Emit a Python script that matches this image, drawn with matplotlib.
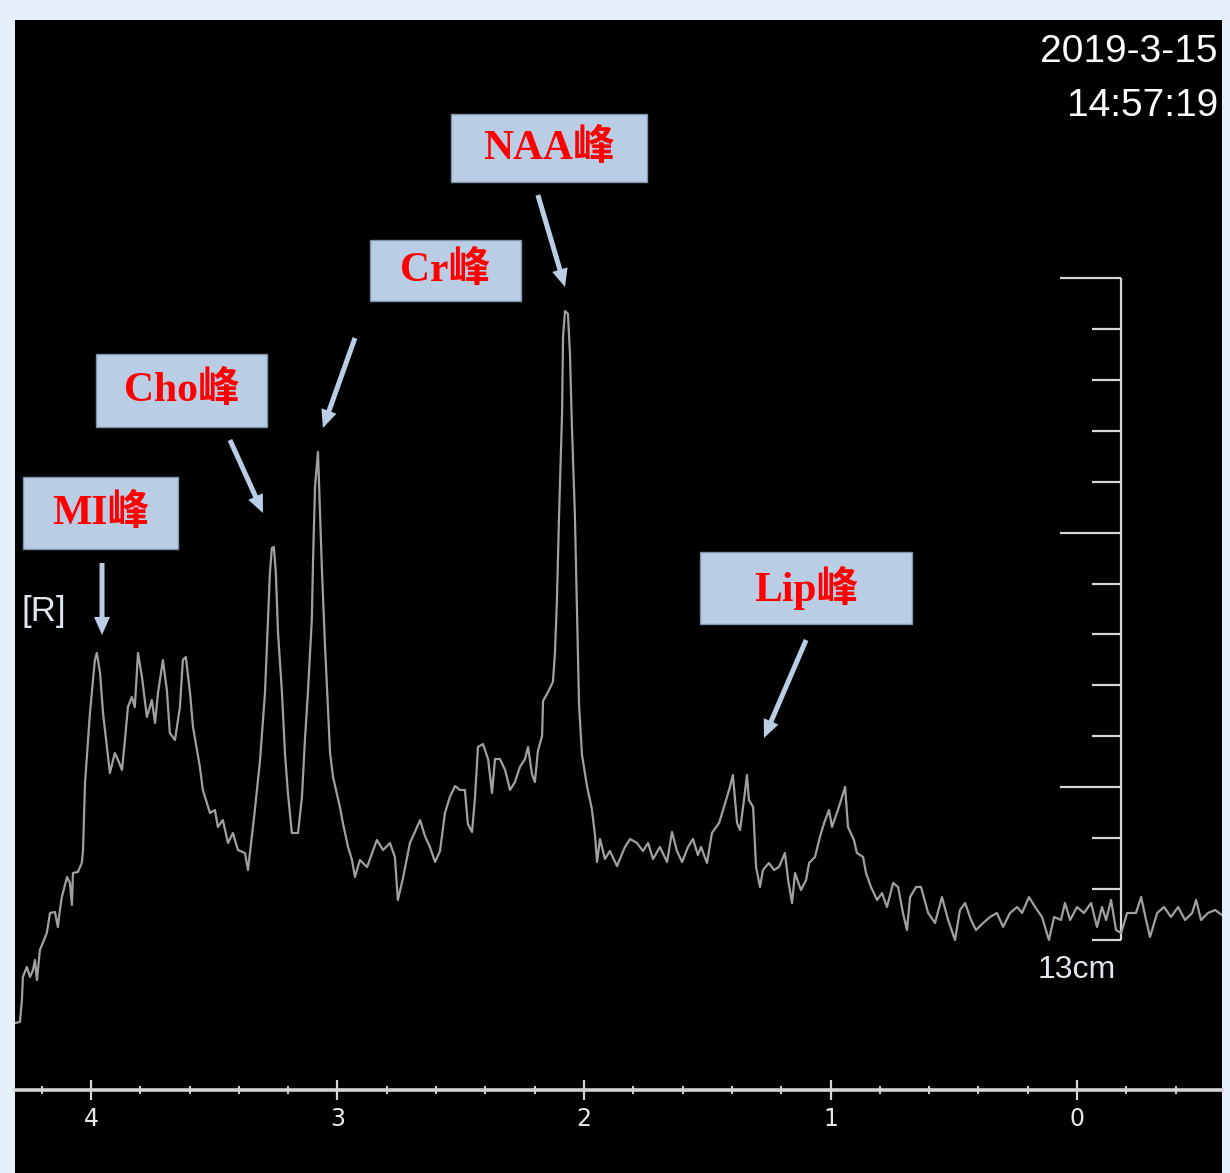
import matplotlib
matplotlib.use("Agg")
import matplotlib.pyplot as plt
from matplotlib.patches import Rectangle

# Spectrum: chemical shift (ppm) and signal height (a.u.)
ppm = [
    4.308, 4.288, 4.280, 4.276, 4.260, 4.247, 4.235, 4.227, 4.219, 4.207,
    4.179, 4.166, 4.146, 4.134, 4.126, 4.118, 4.097, 4.085, 4.077, 4.073,
    4.053, 4.037, 4.032, 4.024, 4.004, 3.984, 3.976, 3.963, 3.951, 3.935,
    3.923, 3.903, 3.890, 3.874, 3.862, 3.850, 3.834, 3.822, 3.809, 3.793,
    3.773, 3.753, 3.740, 3.728, 3.708, 3.692, 3.680, 3.659, 3.639, 3.627,
    3.615, 3.598, 3.586, 3.558, 3.546, 3.517, 3.497, 3.485, 3.465, 3.444,
    3.424, 3.404, 3.375, 3.363, 3.355, 3.335, 3.314, 3.294, 3.282, 3.274,
    3.266, 3.258, 3.250, 3.241, 3.225, 3.213, 3.201, 3.185, 3.172, 3.160,
    3.144, 3.132, 3.120, 3.104, 3.099, 3.091, 3.079, 3.063, 3.051, 3.030,
    3.018, 2.990, 2.978, 2.957, 2.941, 2.929, 2.909, 2.880, 2.840, 2.815,
    2.787, 2.767, 2.755, 2.734, 2.706, 2.686, 2.665, 2.645, 2.625, 2.604,
    2.584, 2.564, 2.544, 2.523, 2.503, 2.483, 2.471, 2.454, 2.442, 2.430,
    2.410, 2.389, 2.373, 2.361, 2.341, 2.320, 2.300, 2.280, 2.260, 2.239,
    2.227, 2.211, 2.199, 2.187, 2.170, 2.166, 2.146, 2.126, 2.118, 2.110,
    2.101, 2.089, 2.085, 2.077, 2.065, 2.057, 2.049, 2.037, 2.028, 2.020,
    2.008, 1.988, 1.968, 1.955, 1.947, 1.935, 1.915, 1.895, 1.866, 1.834,
    1.813, 1.785, 1.761, 1.740, 1.720, 1.692, 1.663, 1.643, 1.623, 1.602,
    1.578, 1.558, 1.538, 1.525, 1.501, 1.481, 1.452, 1.432, 1.408, 1.396,
    1.379, 1.367, 1.351, 1.339, 1.331, 1.314, 1.302, 1.286, 1.274, 1.250,
    1.229, 1.209, 1.185, 1.172, 1.156, 1.144, 1.120, 1.099, 1.087, 1.063,
    1.043, 1.026, 1.006, 0.994, 0.970, 0.957, 0.941, 0.929, 0.905, 0.893,
    0.868, 0.856, 0.836, 0.811, 0.791, 0.771, 0.746, 0.726, 0.706, 0.690,
    0.677, 0.653, 0.633, 0.604, 0.576, 0.548, 0.523, 0.495, 0.475, 0.454,
    0.430, 0.410, 0.381, 0.353, 0.325, 0.300, 0.272, 0.243, 0.223, 0.195,
    0.170, 0.142, 0.114, 0.093, 0.065, 0.049, 0.028, 0.000, -0.028, -0.057,
    -0.081, -0.101, -0.118, -0.138, -0.158, -0.179, -0.203, -0.239, -0.260, -0.280,
    -0.296, -0.325, -0.353, -0.381, -0.410, -0.438, -0.467, -0.483, -0.503, -0.531,
    -0.560, -0.588,
]
signal = [
    67, 68, 90, 113, 123, 113, 120, 130, 110, 140,
    157, 177, 178, 163, 180, 193, 213, 207, 185, 217,
    218, 227, 240, 307, 377, 430, 437, 417, 377, 343,
    317, 337, 330, 320, 350, 383, 393, 383, 437, 413,
    373, 390, 367, 397, 430, 400, 357, 350, 383, 430,
    433, 397, 363, 323, 300, 277, 280, 263, 270, 247,
    257, 240, 237, 220, 237, 280, 330, 397, 470, 517,
    542, 543, 517, 457, 397, 337, 297, 257, 257, 257,
    293, 350, 397, 470, 530, 603, 638, 520, 447, 337,
    313, 283, 267, 243, 230, 213, 230, 223, 250, 240,
    247, 233, 190, 212, 247, 258, 270, 254, 243, 228,
    239, 277, 293, 304, 300, 300, 266, 258, 293, 343,
    346, 331, 297, 331, 331, 320, 300, 308, 323, 331,
    343, 316, 308, 339, 354, 389, 398, 408, 436, 488,
    576, 676, 753, 779, 776, 737, 664, 576, 473, 385,
    335, 304, 281, 254, 228, 251, 231, 239, 224, 243,
    251, 247, 239, 247, 231, 243, 228, 258, 239, 228,
    243, 251, 235, 243, 227, 257, 267, 283, 303, 315,
    267, 260, 290, 315, 290, 283, 223, 203, 220, 227,
    220, 223, 237, 210, 187, 217, 200, 210, 227, 233,
    253, 267, 280, 263, 280, 290, 303, 263, 250, 237,
    233, 217, 203, 190, 197, 183, 207, 203, 177, 160,
    193, 203, 203, 177, 167, 193, 170, 150, 180, 187,
    170, 160, 167, 173, 177, 163, 177, 183, 177, 193,
    183, 173, 150, 173, 170, 187, 170, 183, 177, 187,
    163, 183, 170, 190, 160, 157, 177, 177, 193, 170,
    153, 177, 183, 173, 183, 170, 177, 190, 170, 177,
    180, 175,
]

# Axis ticks (ppm)
major_ticks = [4, 3, 2, 1, 0]
minor_ticks = [4.2, 3.8, 3.6, 3.4, 3.2, 2.8, 2.6, 2.4, 2.2,
               1.8, 1.6, 1.4, 1.2, 0.8, 0.6, 0.4, 0.2, -0.2, -0.4]

# Peak labels: text, box centre (ppm, height), box size (ppm, height), arrow tail, arrow tip
labels = ["NAA峰", "Cr峰", "Cho峰", "MI峰", "Lip峰"]
box_centres = [(2.142, 942), (2.562, 820), (3.633, 700), (3.961, 577), (1.099, 502)]
box_sizes = [(0.795, 68), (0.613, 61), (0.694, 73), (0.629, 72), (0.860, 72)]
arrow_tails = [(2.187, 895), (2.929, 752), (3.436, 650), (3.955, 527), (1.099, 450)]
arrow_tips = [(2.077, 803), (3.059, 662), (3.302, 577), (3.955, 455), (1.270, 352)]

# Scale bar on the right (13 cm)
bar_ppm = -0.179
bar_top, bar_bottom = 812, 150
bar_cm = 13

BOX_COLOR = "#b9cde5"
LINE_GREY = "#a0a0a0"


def draw_scale_bar(ax):
    """Draw the vertical 13cm ruler at the right side."""
    ax.plot([bar_ppm, bar_ppm], [bar_bottom, bar_top], color="#d8d8d8", lw=1.6,
            solid_capstyle="butt")
    step = (bar_top - bar_bottom) / bar_cm
    for i in range(bar_cm + 1):
        y = bar_top - i * step
        left = 0.069 if i % 5 == 0 and i < bar_cm else -0.061
        ax.plot([left, bar_ppm], [y, y], color="#d8d8d8", lw=1.6,
                solid_capstyle="butt")
    ax.text(0.0, bar_bottom - 30, f"{bar_cm}cm", ha="center", va="center",
            color="#dfe6ee", fontsize=23, family="Liberation Sans")


def draw_labels(ax):
    """Light-blue boxes with red text and arrows pointing at each peak."""
    for text, (cx, cy), (w, h), tail, tip in zip(labels, box_centres, box_sizes,
                                                  arrow_tails, arrow_tips):
        ax.add_patch(Rectangle((cx + w / 2, cy - h / 2), -w, h, facecolor=BOX_COLOR,
                               edgecolor="#7f93ad", lw=1.0, zorder=4))
        ax.text(cx, cy, text, ha="center", va="center", color="#ff0000",
                fontsize=30, fontweight="bold",
                family=["Liberation Serif", "Noto Sans CJK SC"], zorder=5)
        ax.annotate("", xy=tip, xytext=tail,
                    arrowprops=dict(arrowstyle="simple,head_width=1.15,head_length=1.3,tail_width=0.36",
                                    mutation_scale=10, color=BOX_COLOR, lw=0,
                                    shrinkA=0, shrinkB=0), zorder=5)


def main():
    fig = plt.figure(figsize=(12.3, 11.73), dpi=100, facecolor="#e6f0fa")
    ax = fig.add_axes([15 / 1230, 0, 1207 / 1230, 1153 / 1173])
    ax.set_facecolor("black")

    ax.plot(ppm, signal, color=LINE_GREY, lw=1.6, zorder=3)

    ax.set_xlim(4.308, -0.588)
    ax.set_ylim(-83, 1070)

    # x axis drawn as a ruler through signal height 0
    for side in ["left", "right", "top"]:
        ax.spines[side].set_visible(False)
    ax.spines["bottom"].set_position(("data", 0))
    ax.spines["bottom"].set_color("#d4d4d4")
    ax.spines["bottom"].set_linewidth(2.6)
    ax.set_xticks(major_ticks)
    ax.set_xticks(minor_ticks, minor=True)
    ax.set_xticklabels([str(t) for t in major_ticks])
    ax.tick_params(axis="x", which="major", direction="inout", length=15, width=1.6,
                   color="#d4d4d4", labelcolor="#e8e8e8", labelsize=17, pad=5)
    ax.tick_params(axis="x", which="minor", direction="inout", length=5.5, width=1.4,
                   color="#d4d4d4")
    for lbl in ax.get_xticklabels():
        lbl.set_family("Liberation Sans Narrow")
    ax.set_yticks([])

    draw_scale_bar(ax)
    draw_labels(ax)

    fig.text(1218 / 1230, 1 - 52 / 1173, "2019-3-15", ha="right", va="center",
             color="white", fontsize=28, family="Liberation Sans")
    fig.text(1218 / 1230, 1 - 106 / 1173, "14:57:19", ha="right", va="center",
             color="white", fontsize=28, family="Liberation Sans")
    fig.text(22 / 1230, 1 - 611 / 1173, "[R]", ha="left", va="center",
             color="#dfe6ee", fontsize=25, family="Liberation Sans")

    fig.savefig("out.png", dpi=100, facecolor=fig.get_facecolor())


if __name__ == "__main__":
    main()
